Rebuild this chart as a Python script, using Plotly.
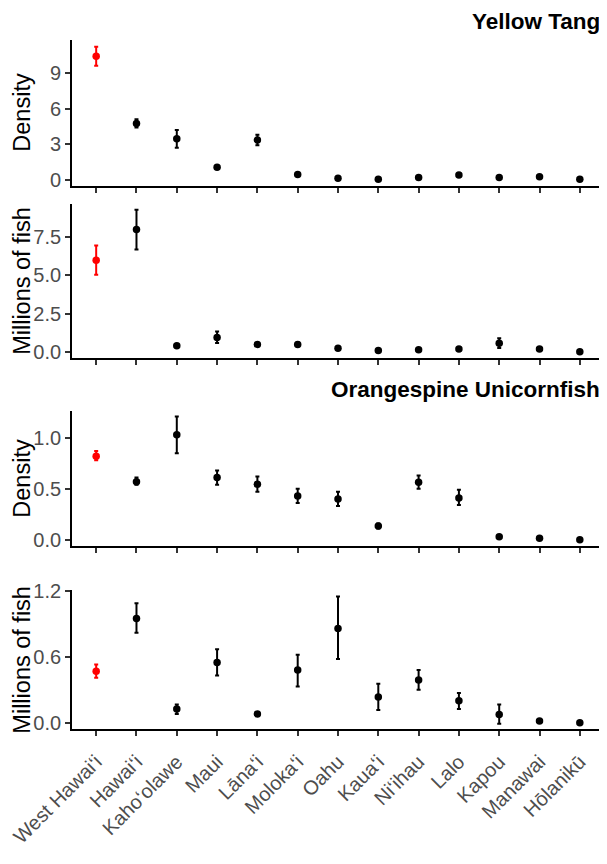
import plotly.graph_objects as go

# the page body has an 8px margin, so the figure is laid out in page pixels minus 8
OFF = 8
W, H = 607 - OFF, 864 - 2 * OFF

islands = ["West Hawai‘i", "Hawai‘i", "Kaho‘olawe", "Maui", "Lāna‘i", "Moloka‘i", "Oahu",
           "Kaua‘i", "Ni‘ihau", "Lalo", "Kapou", "Manawai", "Hōlanikū"]

# Yellow Tang
tang_density = [10.4, 4.75, 3.45, 1.05, 3.35, 0.45, 0.12, 0.05, 0.2, 0.4, 0.2, 0.25, 0.05]
tang_density_lo = [9.6, 4.4, 2.7, 0.9, 2.9, 0.35, 0.06, 0.02, 0.13, 0.3, 0.13, 0.17, 0.02]
tang_density_hi = [11.2, 5.1, 4.2, 1.2, 3.8, 0.55, 0.18, 0.08, 0.27, 0.5, 0.27, 0.33, 0.08]
tang_millions = [6.0, 8.0, 0.42, 0.95, 0.5, 0.5, 0.25, 0.1, 0.15, 0.2, 0.58, 0.2, 0.02]
tang_millions_lo = [5.05, 6.7, 0.32, 0.6, 0.42, 0.38, 0.19, 0.06, 0.1, 0.14, 0.27, 0.14, 0.0]
tang_millions_hi = [6.95, 9.3, 0.52, 1.35, 0.58, 0.62, 0.31, 0.14, 0.2, 0.26, 0.9, 0.26, 0.04]

# Orangespine Unicornfish
uni_density = [0.82, 0.57, 1.03, 0.61, 0.545, 0.43, 0.40, 0.135, 0.565, 0.41, 0.03, 0.015, 0.0]
uni_density_lo = [0.78, 0.54, 0.85, 0.54, 0.47, 0.36, 0.33, 0.11, 0.50, 0.34, 0.02, 0.01, 0.0]
uni_density_hi = [0.87, 0.61, 1.21, 0.68, 0.62, 0.50, 0.47, 0.16, 0.63, 0.49, 0.04, 0.02, 0.0]
uni_millions = [0.47, 0.95, 0.125, 0.55, 0.08, 0.48, 0.86, 0.235, 0.39, 0.20, 0.075, 0.015, 0.0]
uni_millions_lo = [0.41, 0.82, 0.08, 0.43, 0.07, 0.33, 0.58, 0.115, 0.30, 0.125, -0.01, 0.01, 0.0]
uni_millions_hi = [0.53, 1.09, 0.165, 0.67, 0.09, 0.62, 1.15, 0.355, 0.48, 0.27, 0.165, 0.02, 0.0]

panels = [
    # (mean, lo, hi, y title, y range, tick values, tick text, top px, bottom px)
    (tang_density, tang_density_lo, tang_density_hi, "Density", [-0.5, 11.8],
     [0, 3, 6, 9], ["0", "3", "6", "9"], 39.7, 185.7),
    (tang_millions, tang_millions_lo, tang_millions_hi, "Millions of fish", [-0.4, 9.7],
     [0, 2.5, 5, 7.5], ["0.0", "2.5", "5.0", "7.5"], 203.5, 358.2),
    (uni_density, uni_density_lo, uni_density_hi, "Density", [-0.062, 1.26],
     [0, 0.5, 1.0], ["0.0", "0.5", "1.0"], 411.4, 546.0),
    (uni_millions, uni_millions_lo, uni_millions_hi, "Millions of fish", [-0.06, 1.21],
     [0, 0.6, 1.2], ["0.0", "0.6", "1.2"], 590.0, 729.3),
]

FONT = "Liberation Sans, Arial, sans-serif"
TICK_GREY = "#4d4d4d"


def px_x(px):
    return (px - OFF) / W


def px_y(px):
    return 1 - (px - OFF) / H


fig = go.Figure()
layout = {}
annotations = []

for i, (mean, lo, hi, ytitle, yrange, tv, tt, top, bottom) in enumerate(panels, start=1):
    xa = "x" if i == 1 else f"x{i}"
    ya = "y" if i == 1 else f"y{i}"
    for idx_set, color in [(range(0, 1), "red"), (range(1, len(islands)), "black")]:
        xs = [islands[k] for k in idx_set]
        ys = [mean[k] for k in idx_set]
        plus = [hi[k] - mean[k] for k in idx_set]
        minus = [mean[k] - lo[k] for k in idx_set]
        fig.add_trace(go.Scatter(
            x=xs, y=ys, mode="markers", xaxis=xa, yaxis=ya,
            marker=dict(color=color, size=7.5),
            error_y=dict(type="data", symmetric=False, array=plus, arrayminus=minus,
                         color=color, thickness=2, width=2),
            showlegend=False, hoverinfo="x+y",
        ))

    key = "" if i == 1 else str(i)
    layout["xaxis" + key] = dict(
        domain=[px_x(72), px_x(604)], anchor=ya, type="category", automargin=False,
        categoryorder="array", categoryarray=islands, range=[-0.6, 12.6],
        showline=True, linecolor="black", linewidth=1.8, showgrid=False, zeroline=False,
        ticks="outside", ticklen=5, tickwidth=1.5, tickcolor="#333333",
        showticklabels=(i == 4), tickangle=-45, ticklabelstandoff=6,
        tickfont=dict(family=FONT, size=20, color=TICK_GREY),
    )
    layout["yaxis" + key] = dict(
        domain=[px_y(bottom), px_y(top)], anchor=xa, range=yrange, tickvals=tv, ticktext=tt,
        automargin=False,
        showline=True, linecolor="black", linewidth=1.8, showgrid=False, zeroline=False,
        ticks="outside", ticklen=5, tickwidth=1.5, tickcolor="#333333",
        tickfont=dict(family=FONT, size=20, color=TICK_GREY),
    )
    annotations.append(dict(
        text=ytitle, textangle=-90, xref="paper", yref="paper",
        x=0, y=px_y((top + bottom) / 2), xanchor="left", yanchor="middle",
        showarrow=False, borderpad=0, font=dict(family=FONT, size=23.5, color="black"),
    ))

for title, ypx in [("Yellow Tang", None), ("Orangespine Unicornfish", 389)]:
    annotations.append(dict(
        text=f"<b>{title}</b>", xref="paper", yref="paper",
        x=px_x(601), y=1 if ypx is None else px_y(ypx), xanchor="right",
        yanchor="top" if ypx is None else "middle", borderpad=0,
        showarrow=False, font=dict(family=FONT, size=22.5, color="black"),
    ))

fig.update_layout(
    **layout,
    annotations=annotations,
    width=W, height=H,
    margin=dict(l=0, r=0, t=0, b=0),
    paper_bgcolor="white", plot_bgcolor="white",
    font=dict(family=FONT),
)

fig.write_html("out.html")
